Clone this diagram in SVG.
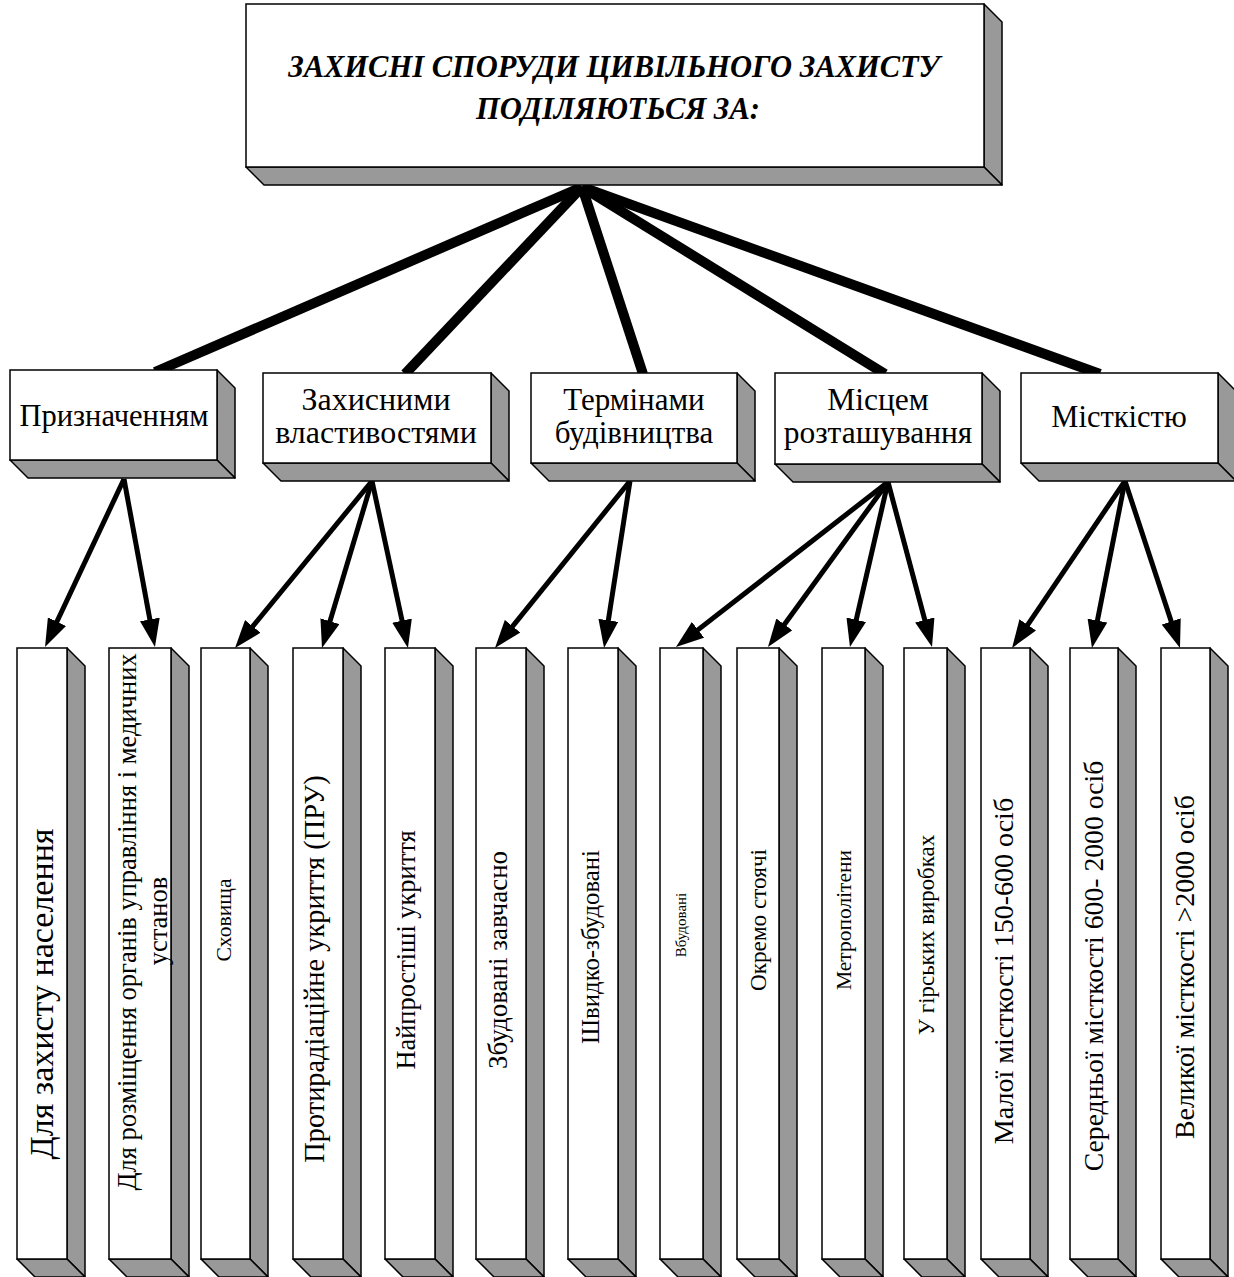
<svg xmlns="http://www.w3.org/2000/svg" width="1234" height="1277" viewBox="0 0 1234 1277">
<defs>
<style>
.f{fill:#fff;stroke:#000;stroke-width:1.5}
.s{fill:#999;stroke:#000;stroke-width:1.5;stroke-linejoin:round}
.t{font-family:"Liberation Serif","Times New Roman",serif;fill:#000}
.tt{font-size:30.5px;font-weight:bold;font-style:italic;text-anchor:middle}
.tm{text-anchor:middle}
.tb{text-anchor:middle}
.thick{stroke:#000;stroke-width:10;fill:none}
.arr{stroke:#000;stroke-width:5;fill:none;marker-end:url(#ah)}
</style>
<marker id="ah" markerUnits="userSpaceOnUse" markerWidth="28" markerHeight="20" refX="14" refY="10" orient="auto" viewBox="0 0 28 20">
<path d="M0,0 L28,10 L0,20 z" fill="#000"/>
</marker>
</defs>
<rect width="1234" height="1277" fill="#fff"/>
<g id="connectors">
<line class="thick" x1="582" y1="187" x2="155" y2="372"/>
<line class="thick" x1="582" y1="187" x2="405" y2="374"/>
<line class="thick" x1="582" y1="187" x2="643" y2="374"/>
<line class="thick" x1="582" y1="187" x2="885" y2="374"/>
<line class="thick" x1="582" y1="187" x2="1100" y2="374"/>
<line class="arr" x1="124" y1="479" x2="51" y2="634.3"/>
<line class="arr" x1="124" y1="479" x2="152.4" y2="633.2"/>
<line class="arr" x1="372" y1="481" x2="243.9" y2="637.2"/>
<line class="arr" x1="372" y1="481" x2="326" y2="634.6"/>
<line class="arr" x1="372" y1="481" x2="405" y2="634.3"/>
<line class="arr" x1="630" y1="481" x2="503.8" y2="637.1"/>
<line class="arr" x1="630" y1="481" x2="606.2" y2="634.2"/>
<line class="arr" x1="888" y1="482" x2="687" y2="638.4"/>
<line class="arr" x1="888" y1="482" x2="776.2" y2="635.7"/>
<line class="arr" x1="888" y1="482" x2="853.1" y2="633.4"/>
<line class="arr" x1="888" y1="482" x2="928.4" y2="633.5"/>
<line class="arr" x1="1125" y1="481" x2="1019.9" y2="636.4"/>
<line class="arr" x1="1125" y1="481" x2="1094.7" y2="634.3"/>
<line class="arr" x1="1125" y1="481" x2="1175.6" y2="634.7"/>
</g>
<g id="root">
<polygon class="s" points="984,4 1002,22 1002,185 984,167"/>
<polygon class="s" points="246,167 984,167 1002,185 264,185"/>
<rect class="f" x="246" y="4" width="738" height="163"/>
<text class="t tt" x="614" y="77">ЗАХИСНІ СПОРУДИ ЦИВІЛЬНОГО ЗАХИСТУ</text>
<text class="t tt" x="618" y="119">ПОДІЛЯЮТЬСЯ ЗА:</text>
</g>
<g id="m1">
<polygon class="s" points="217,370 235,388 235,478 217,460"/>
<polygon class="s" points="10,460 217,460 235,478 28,478"/>
<rect class="f" x="10" y="370" width="207" height="90"/>
<text class="t tm" style="font-size:30.5px" x="114" y="426">Призначенням</text>
</g>
<g id="m2">
<polygon class="s" points="491,373 509,391 509,481 491,463"/>
<polygon class="s" points="263,463 491,463 509,481 281,481"/>
<rect class="f" x="263" y="373" width="228" height="90"/>
<text class="t tm" style="font-size:32px" x="376" y="410">Захисними</text>
<text class="t tm" style="font-size:32px" x="376" y="443">властивостями</text>
</g>
<g id="m3">
<polygon class="s" points="737,373 755,391 755,481 737,463"/>
<polygon class="s" points="531,463 737,463 755,481 549,481"/>
<rect class="f" x="531" y="373" width="206" height="90"/>
<text class="t tm" style="font-size:31px" x="634" y="410">Термінами</text>
<text class="t tm" style="font-size:31px" x="634" y="443">будівництва</text>
</g>
<g id="m4">
<polygon class="s" points="982,373 1000,391 1000,482 982,464"/>
<polygon class="s" points="775,464 982,464 1000,482 793,482"/>
<rect class="f" x="775" y="373" width="207" height="91"/>
<text class="t tm" style="font-size:31.5px" x="878" y="410">Місцем</text>
<text class="t tm" style="font-size:31.5px" x="878" y="443">розташування</text>
</g>
<g id="m5">
<polygon class="s" points="1218,373 1236,391 1236,481 1218,463"/>
<polygon class="s" points="1021,463 1218,463 1236,481 1039,481"/>
<rect class="f" x="1021" y="373" width="197" height="90"/>
<text class="t tm" style="font-size:30.5px" x="1119" y="427">Місткістю</text>
</g>
<g id="b1">
<polygon class="s" points="67,648 85,666 85,1277 67,1259"/>
<polygon class="s" points="17,1259 67,1259 85,1277 35,1277"/>
<rect class="f" x="17" y="648" width="50" height="611"/>
<text class="t tb" style="font-size:34px" x="41" y="994" dy="0.35em" transform="rotate(-90 41 994)">Для захисту населення</text>
</g>
<g id="b2">
<polygon class="s" points="171,648 189,666 189,1277 171,1259"/>
<polygon class="s" points="109,1259 171,1259 189,1277 127,1277"/>
<rect class="f" x="109" y="648" width="62" height="611"/>
<text class="t tb" style="font-size:26.5px" x="127" y="922" dy="0.35em" transform="rotate(-90 127 922)">Для розміщення органів управління і медичних</text>
<text class="t tb" style="font-size:26.5px" x="158" y="921" dy="0.35em" transform="rotate(-90 158 921)">установ</text>
</g>
<g id="b3">
<polygon class="s" points="250,648 268,666 268,1277 250,1259"/>
<polygon class="s" points="201,1259 250,1259 268,1277 219,1277"/>
<rect class="f" x="201" y="648" width="49" height="611"/>
<text class="t tb" style="font-size:21.6px" x="223" y="920" dy="0.35em" transform="rotate(-90 223 920)">Сховища</text>
</g>
<g id="b4">
<polygon class="s" points="343,648 361,666 361,1277 343,1259"/>
<polygon class="s" points="293,1259 343,1259 361,1277 311,1277"/>
<rect class="f" x="293" y="648" width="50" height="611"/>
<text class="t tb" style="font-size:28.4px" x="314" y="969" dy="0.35em" transform="rotate(-90 314 969)">Протирадіаційне укриття (ПРУ)</text>
</g>
<g id="b5">
<polygon class="s" points="435,648 453,666 453,1277 435,1259"/>
<polygon class="s" points="385,1259 435,1259 453,1277 403,1277"/>
<rect class="f" x="385" y="648" width="50" height="611"/>
<text class="t tb" style="font-size:26.4px" x="406" y="950" dy="0.35em" transform="rotate(-90 406 950)">Найпростіші укриття</text>
</g>
<g id="b6">
<polygon class="s" points="526,648 544,666 544,1277 526,1259"/>
<polygon class="s" points="476,1259 526,1259 544,1277 494,1277"/>
<rect class="f" x="476" y="648" width="50" height="611"/>
<text class="t tb" style="font-size:27px" x="498" y="960" dy="0.35em" transform="rotate(-90 498 960)">Збудовані завчасно</text>
</g>
<g id="b7">
<polygon class="s" points="618,648 636,666 636,1277 618,1259"/>
<polygon class="s" points="568,1259 618,1259 636,1277 586,1277"/>
<rect class="f" x="568" y="648" width="50" height="611"/>
<text class="t tb" style="font-size:24.8px" x="590" y="947" dy="0.35em" transform="rotate(-90 590 947)">Швидко-збудовані</text>
</g>
<g id="b8">
<polygon class="s" points="703,648 721,666 721,1277 703,1259"/>
<polygon class="s" points="660,1259 703,1259 721,1277 678,1277"/>
<rect class="f" x="660" y="648" width="43" height="611"/>
<text class="t tb" style="font-size:15px" x="681" y="925" dy="0.35em" transform="rotate(-90 681 925)">Вбудовані</text>
</g>
<g id="b9">
<polygon class="s" points="779,648 797,666 797,1277 779,1259"/>
<polygon class="s" points="737,1259 779,1259 797,1277 755,1277"/>
<rect class="f" x="737" y="648" width="42" height="611"/>
<text class="t tb" style="font-size:23.2px" x="758" y="920" dy="0.35em" transform="rotate(-90 758 920)">Окремо стоячі</text>
</g>
<g id="b10">
<polygon class="s" points="865,648 883,666 883,1277 865,1259"/>
<polygon class="s" points="822,1259 865,1259 883,1277 840,1277"/>
<rect class="f" x="822" y="648" width="43" height="611"/>
<text class="t tb" style="font-size:21.5px" x="843" y="920" dy="0.35em" transform="rotate(-90 843 920)">Метрополітени</text>
</g>
<g id="b11">
<polygon class="s" points="947,648 965,666 965,1277 947,1259"/>
<polygon class="s" points="904,1259 947,1259 965,1277 922,1277"/>
<rect class="f" x="904" y="648" width="43" height="611"/>
<text class="t tb" style="font-size:22.9px" x="926" y="935" dy="0.35em" transform="rotate(-90 926 935)">У гірських виробках</text>
</g>
<g id="b12">
<polygon class="s" points="1030,648 1048,666 1048,1277 1030,1259"/>
<polygon class="s" points="981,1259 1030,1259 1048,1277 999,1277"/>
<rect class="f" x="981" y="648" width="49" height="611"/>
<text class="t tb" style="font-size:28px" x="1003" y="971" dy="0.35em" transform="rotate(-90 1003 971)">Малої місткості 150-600 осіб</text>
</g>
<g id="b13">
<polygon class="s" points="1118,648 1136,666 1136,1277 1118,1259"/>
<polygon class="s" points="1070,1259 1118,1259 1136,1277 1088,1277"/>
<rect class="f" x="1070" y="648" width="48" height="611"/>
<text class="t tb" style="font-size:27.7px" x="1093" y="966" dy="0.35em" transform="rotate(-90 1093 966)">Середньої місткості 600- 2000 осіб</text>
</g>
<g id="b14">
<polygon class="s" points="1210,648 1228,666 1228,1277 1210,1259"/>
<polygon class="s" points="1161,1259 1210,1259 1228,1277 1179,1277"/>
<rect class="f" x="1161" y="648" width="49" height="611"/>
<text class="t tb" style="font-size:27.9px" x="1184" y="967" dy="0.35em" transform="rotate(-90 1184 967)">Великої місткості &gt;2000 осіб</text>
</g>
</svg>
